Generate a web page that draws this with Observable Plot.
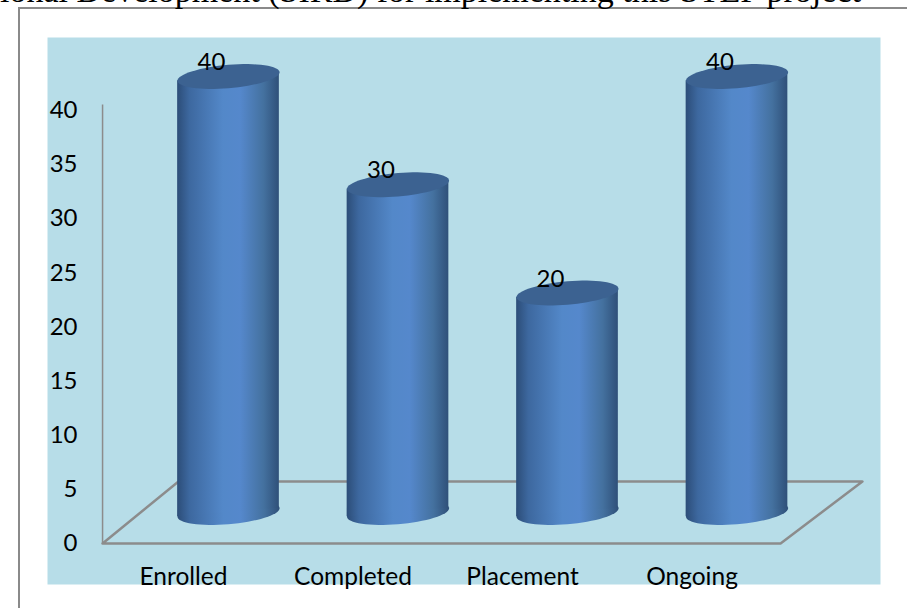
<!DOCTYPE html>
<html>
<head>
<meta charset="utf-8">
<script src="https://cdn.jsdelivr.net/npm/d3@7"></script>
<script src="https://cdn.jsdelivr.net/npm/@observablehq/plot@0.6"></script>
<style>
html,body{margin:0;padding:0;background:#fff;overflow:hidden}
#page{position:relative;width:907px;height:608px;overflow:hidden}
#caption{position:absolute;left:0;top:-28px;white-space:nowrap;font:34px "Liberation Serif",serif;color:#000}
#box{position:absolute;left:18px;top:7px;width:900px;height:620px;border:2px solid #8a8a8a;box-sizing:border-box}
#chart{position:absolute;left:0;top:0}
</style>
</head>
<body>
<div id="page">
<div id="box"></div>
<div id="chart"></div>
<div id="caption">ional Development (SIRD) for implementing this STEP project</div>
</div>
<script>
const categories = ["Enrolled", "Completed", "Placement", "Ongoing"];
const values = [40, 30, 20, 40];
const yTicks = [0, 5, 10, 15, 20, 25, 30, 35, 40];
const floorX = [-0.743, 3.257, 3.74, -0.295, -0.743];
const floorY = [0, 0, 5.73, 5.73, 0];

const rows = categories.map((c, i) => ({c, i, v: values[i]}));
const floor = floorX.map((x, i) => ({x, y: floorY[i]}));
const font = "Lato, 'Open Sans', sans-serif";

// Slanted ends of the cylinders: the left side sits lower than the right side.
const halfWidth = 0.3;
const slant = 0.39;
const base = -0.28;
const sides = rows.flatMap(d => [
  {c: d.c, x: d.i - halfWidth, y1: base - slant, y2: d.v - slant},
  {c: d.c, x: d.i + halfWidth, y1: base + slant, y2: d.v + slant}
]);

function tilted(kx, ky) {
  return {
    draw(ctx, size) {
      const a = Math.sqrt(size / Math.PI);
      const n = 64;
      for (let k = 0; k <= n; k++) {
        const t = (k / n) * 2 * Math.PI;
        const x = a * Math.cos(t);
        const y = a * ky * Math.sin(t) - a * kx * Math.cos(t);
        if (k === 0) ctx.moveTo(x, y); else ctx.lineTo(x, y);
      }
      ctx.closePath();
    }
  };
}
const disc = tilted(0.082, 0.229);

function defs() {
  const s = d3.create("svg:defs");
  const g = s.append("linearGradient").attr("id", "cyl").attr("x1", 0).attr("x2", 1).attr("y1", 0).attr("y2", 0);
  [[0, "#2c4d78"], [0.12, "#3d689f"], [0.45, "#5388c9"], [0.62, "#5588cc"], [0.85, "#44719f"], [1, "#2f5079"]]
    .forEach(([o, c]) => g.append("stop").attr("offset", o).attr("stop-color", c));
  return s.node();
}

const lift = -34;
const chart = Plot.plot({
  width: 907,
  height: 608,
  marginLeft: 47,
  marginRight: 27,
  marginTop: 37,
  marginBottom: 24,
  style: {background: "transparent", fontFamily: font, overflow: "visible"},
  x: {type: "linear", domain: [0, 1], range: [228, 397.5]},
  y: {type: "linear", domain: [0, 40], range: [543, 110]},
  marks: [
    defs,
    Plot.frame({fill: "#b7dde8", stroke: null}),
    Plot.line(floor, {x: "x", y: "y", stroke: "#8c8c8c", strokeWidth: 2.5}),
    Plot.ruleX([floorX[0]], {y1: 0, y2: 40.5, stroke: "#8c8c8c", strokeWidth: 1.5}),
    Plot.dot(rows, {x: "i", y: base, dy: lift, r: 51, symbol: disc, fill: "url(#cyl)"}),
    Plot.areaY(sides, {x: "x", y1: "y1", y2: "y2", z: "c", dy: lift, fill: "url(#cyl)"}),
    Plot.dot(rows, {x: "i", y: "v", dy: lift, r: 51, symbol: disc, fill: "#3c6291"}),
    Plot.text(rows, {x: "i", y: "v", text: d => String(d.v), dx: -17, dy: -48, fontSize: 24, fill: "#000"}),
    Plot.axisY({ticks: yTicks, anchor: "left", tickSize: 0, tickPadding: 0, dx: 30, fontSize: 24, fill: "#000", label: null}),
    Plot.axisX({ticks: categories.map((c, i) => i), tickFormat: i => categories[i], anchor: "bottom", tickSize: 0, tickPadding: 0, dx: -45, dy: -17, fontSize: 24.5, fill: "#000", label: null})
  ]
});
document.getElementById("chart").appendChild(chart);
</script>
</body>
</html>
